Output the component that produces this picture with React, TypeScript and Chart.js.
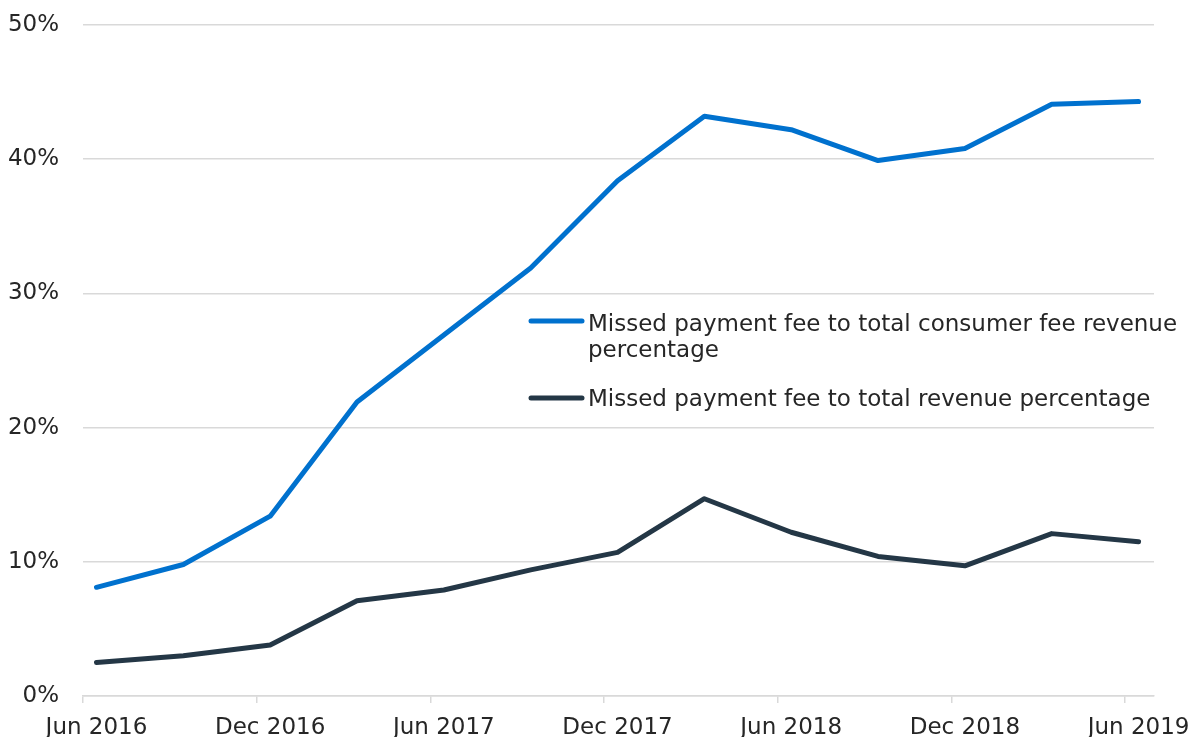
import React, { useEffect, useRef } from "react";
import { Chart, registerables } from "chart.js";

Chart.register(...registerables);

// Observation dates (mid-month, quarterly)
const observationDates = [
  "2016-06-15", "2016-09-15", "2016-12-15", "2017-03-15", "2017-06-15",
  "2017-09-15", "2017-12-15", "2018-03-15", "2018-06-15", "2018-09-15",
  "2018-12-15", "2019-03-15", "2019-06-15",
];

// Missed payment fee to total consumer fee revenue (%)
const consumerFeeShare = [8.1, 9.8, 13.4, 21.9, 26.9, 31.9, 38.4, 43.2, 42.2, 39.9, 40.8, 44.1, 44.3];

// Missed payment fee to total revenue (%)
const totalRevenueShare = [2.5, 3.0, 3.8, 7.1, 7.9, 9.4, 10.7, 14.7, 12.2, 10.4, 9.7, 12.1, 11.5];

const seriesNames = [
  ["Missed payment fee to total consumer fee revenue", "percentage"],
  ["Missed payment fee to total revenue percentage"],
];

const xTickLabels = ["Jun 2016", "Dec 2016", "Jun 2017", "Dec 2017", "Jun 2018", "Dec 2018", "Jun 2019"];
const yTickValues = [0, 10, 20, 30, 40, 50];

const BLUE = "#0071CE";
const DARK = "#243746";
const GRID = "#d9d9d9";
const TEXT = "#262626";
const FONT = "'DejaVu Sans', sans-serif";

// months elapsed since 1 Jun 2016
function monthIndex(d: string): number {
  const [y, m, day] = d.split("-").map(Number);
  return (y - 2016) * 12 + (m - 6) + (day - 1) / 30;
}

const legendPlugin = {
  id: "inlineLegend",
  afterDatasetsDraw(chart: any) {
    const ctx = chart.ctx as CanvasRenderingContext2D;
    const rows = [
      { color: BLUE, lines: seriesNames[0], lineY: 321, baseY: 331 },
      { color: DARK, lines: seriesNames[1], lineY: 398, baseY: 406 },
    ];
    ctx.save();
    ctx.font = `23px ${FONT}`;
    ctx.fillStyle = TEXT;
    ctx.textBaseline = "alphabetic";
    ctx.textAlign = "left";
    rows.forEach((r) => {
      ctx.beginPath();
      ctx.strokeStyle = r.color;
      ctx.lineWidth = 5;
      ctx.lineCap = "round";
      ctx.moveTo(531, r.lineY);
      ctx.lineTo(582, r.lineY);
      ctx.stroke();
      r.lines.forEach((t, i) => {
        ctx.fillText(t, 588, r.baseY + i * 26);
      });
    });
    ctx.restore();
  },
};

export default function App() {
  const ref = useRef<HTMLCanvasElement | null>(null);

  useEffect(() => {
    if (!ref.current) return;
    const xs = observationDates.map(monthIndex);
    const chart = new Chart(ref.current, {
      type: "line",
      data: {
        datasets: [
          {
            label: seriesNames[0].join(" "),
            data: xs.map((x, i) => ({ x, y: consumerFeeShare[i] })),
            borderColor: BLUE,
            backgroundColor: BLUE,
            borderWidth: 5,
            pointRadius: 0,
            tension: 0,
            borderCapStyle: "round",
            borderJoinStyle: "round",
          },
          {
            label: seriesNames[1].join(" "),
            data: xs.map((x, i) => ({ x, y: totalRevenueShare[i] })),
            borderColor: DARK,
            backgroundColor: DARK,
            borderWidth: 5,
            pointRadius: 0,
            tension: 0,
            borderCapStyle: "round",
            borderJoinStyle: "round",
          },
        ],
      },
      options: {
        animation: false,
        responsive: false,
        events: [],
        layout: { padding: { top: 25, right: 43, left: 0, bottom: 0 } },
        plugins: {
          legend: { display: false },
          tooltip: { enabled: false },
          title: { display: false },
        },
        scales: {
          x: {
            type: "linear",
            min: 0,
            max: 37,
            afterBuildTicks: (scale: any) => {
              scale.ticks = xTickLabels.map((_, i) => ({ value: i * 6 }));
            },
            afterFit: (scale: any) => {
              scale.height = 41;
              scale.paddingLeft = 0;
              scale.paddingRight = 0;
            },
            grid: {
              drawOnChartArea: false,
              drawTicks: true,
              tickLength: 7,
              color: GRID,
              lineWidth: 1.5,
            },
            border: { display: true, color: GRID, width: 1.5 },
            ticks: {
              autoSkip: false,
              maxRotation: 0,
              minRotation: 0,
              labelOffset: 13.5,
              padding: 11,
              color: TEXT,
              font: { family: FONT, size: 23 },
              callback: (v: any) => xTickLabels[Math.round(Number(v) / 6)] ?? "",
            },
          },
          y: {
            type: "linear",
            min: 0,
            max: 50,
            afterBuildTicks: (scale: any) => {
              scale.ticks = yTickValues.map((value) => ({ value }));
            },
            afterFit: (scale: any) => {
              scale.width = 83;
              scale.paddingTop = 0;
              scale.paddingBottom = 0;
            },
            grid: {
              drawTicks: false,
              color: GRID,
              lineWidth: 1.5,
            },
            border: { display: false },
            ticks: {
              padding: 24,
              color: TEXT,
              font: { family: FONT, size: 23 },
              callback: (v: any) => `${v}%`,
            },
          },
        },
      },
      plugins: [legendPlugin],
    });
    return () => chart.destroy();
  }, []);

  return (
    <div style={{ position: "absolute", left: 0, top: 0, width: 1197, height: 737, background: "#fff" }}>
      <canvas ref={ref} width={1197} height={737} style={{ width: 1197, height: 737, display: "block" }} />
    </div>
  );
}
